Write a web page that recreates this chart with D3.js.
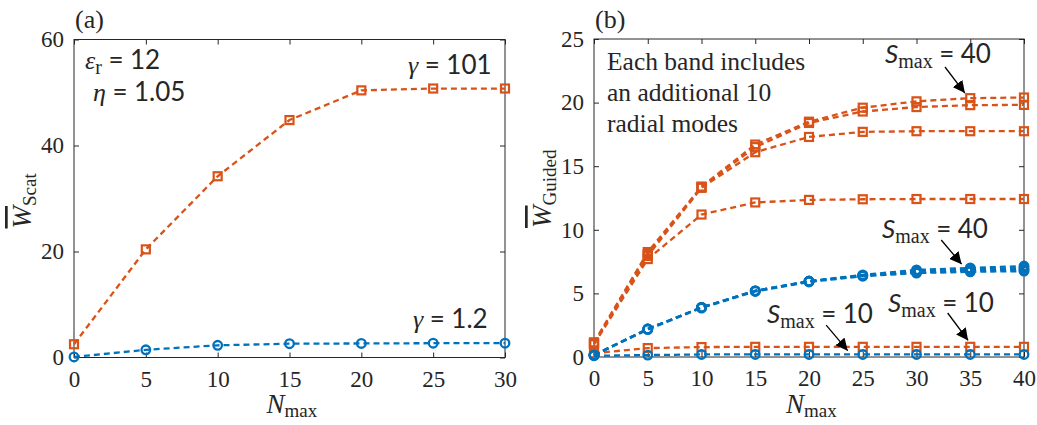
<!DOCTYPE html>
<html>
<head>
<meta charset="utf-8">
<script src="https://cdn.jsdelivr.net/npm/d3@7"></script>
<style>
  body { margin: 0; background: #fff; }
  svg text { fill: #262626; }
</style>
</head>
<body>
<svg id="chart"></svg>
<script>
const width = 1037;
const height = 425;
const orange = '#D95319';
const blue = '#0072BD';

// (a) scattering
const nA = [0, 5, 10, 15, 20, 25, 30];
const scatGamma101 = [2.5, 20.4, 34.2, 44.8, 50.4, 50.75, 50.75];
const scatGamma12 = [0.1, 1.45, 2.3, 2.6, 2.65, 2.7, 2.7];

// (b) guided, several S_max bands
const nB = [0, 5, 10, 15, 20, 25, 30, 35, 40];
const guidedOrange = [
  [1.15, 8.25, 13.4, 16.7, 18.5, 19.6, 20.1, 20.35, 20.4],
  [1.1, 8.1, 13.35, 16.5, 18.4, 19.3, 19.65, 19.8, 19.82],
  [1.05, 7.95, 13.3, 16.1, 17.3, 17.7, 17.75, 17.75, 17.75],
  [1.0, 7.7, 11.2, 12.15, 12.35, 12.4, 12.42, 12.42, 12.42],
  [0.3, 0.7, 0.78, 0.8, 0.8, 0.8, 0.8, 0.8, 0.8]
];
const guidedBlue = [
  [0.15, 2.2, 3.9, 5.2, 5.97, 6.45, 6.85, 7.0, 7.15],
  [0.15, 2.2, 3.9, 5.2, 5.95, 6.4, 6.75, 6.9, 7.0],
  [0.15, 2.2, 3.9, 5.2, 5.95, 6.4, 6.65, 6.8, 6.85],
  [0.15, 2.15, 3.85, 5.15, 5.9, 6.35, 6.6, 6.7, 6.75],
  [0.1, 0.15, 0.2, 0.2, 0.2, 0.2, 0.2, 0.2, 0.2]
];

const xTicksA = [0, 5, 10, 15, 20, 25, 30];
const yTicksA = [0, 20, 40, 60];
const xTicksB = [0, 5, 10, 15, 20, 25, 30, 35, 40];
const yTicksB = [0, 5, 10, 15, 20, 25];

const serif = '"Liberation Serif", "Times New Roman", serif';
const sans = 'Lato, "Open Sans", sans-serif';

const svg = d3.select('#chart').attr('width', width).attr('height', height);

svg.append('defs').append('marker')
  .attr('id', 'arrow')
  .attr('viewBox', '0 0 10 10')
  .attr('refX', 10).attr('refY', 5)
  .attr('markerWidth', 12).attr('markerHeight', 12)
  .attr('markerUnits', 'userSpaceOnUse')
  .attr('orient', 'auto')
  .append('path').attr('d', 'M0,0 L10,5 L0,10 Z').attr('fill', '#000');

function panel(box, xDomain, yDomain, xTicks, yTicks, label, ySub) {
  const x = d3.scaleLinear().domain(xDomain).range([box.left, box.right]);
  const y = d3.scaleLinear().domain(yDomain).range([box.bottom, box.top]);
  const g = svg.append('g');

  const tick = 5;
  const axisStyle = a => {
    a.select('.domain').remove();
    a.selectAll('line').attr('stroke', '#262626');
    a.selectAll('text').attr('font-family', serif).attr('font-size', 23).attr('fill', '#262626');
  };
  g.append('g').attr('transform', `translate(0,${box.bottom})`)
    .call(d3.axisBottom(x).tickValues(xTicks).tickSize(-tick).tickPadding(13))
    .call(axisStyle);
  g.append('g').attr('transform', `translate(0,${box.top})`)
    .call(d3.axisTop(x).tickValues(xTicks).tickSize(-tick).tickFormat(''))
    .call(axisStyle);
  g.append('g').attr('transform', `translate(${box.left},0)`)
    .call(d3.axisLeft(y).tickValues(yTicks).tickSize(-tick).tickPadding(10))
    .call(axisStyle);
  g.append('g').attr('transform', `translate(${box.right},0)`)
    .call(d3.axisRight(y).tickValues(yTicks).tickSize(-tick).tickFormat(''))
    .call(axisStyle);
  g.append('rect')
    .attr('x', box.left).attr('y', box.top)
    .attr('width', box.right - box.left).attr('height', box.bottom - box.top)
    .attr('fill', 'none').attr('stroke', '#262626').attr('stroke-width', 1);

  // panel label
  g.append('text').attr('x', box.left + 1).attr('y', 28)
    .attr('font-family', serif).attr('font-size', 26).text(label);

  // x label
  const xl = g.append('text').attr('x', (box.left + box.right) / 2 - 23).attr('y', 413)
    .attr('font-family', serif).attr('font-size', 27);
  xl.append('tspan').attr('font-style', 'italic').text('N');
  xl.append('tspan').attr('font-size', 19).attr('dy', 4).text('max');

  // y label
  const yl = g.append('text')
    .attr('transform', `translate(${box.left - 43},${(box.top + box.bottom) / 2 + 30}) rotate(-90)`)
    .attr('font-family', serif).attr('font-size', 27);
  yl.append('tspan').attr('font-style', 'italic').style('text-decoration', 'overline').text('W');
  yl.append('tspan').attr('font-size', 19).attr('dy', 5).text(ySub);

  return { x, y, g };
}

function series(p, xs, ys, color, shape) {
  const pts = xs.map((d, i) => [d, ys[i]]);
  const line = d3.line().x(d => p.x(d[0])).y(d => p.y(d[1]));
  p.g.append('path').datum(pts)
    .attr('d', line)
    .attr('fill', 'none')
    .attr('stroke', color)
    .attr('stroke-width', 2.3)
    .attr('stroke-dasharray', '6,4');
  if (shape === 'square') {
    p.g.append('g').selectAll('rect').data(pts).enter().append('rect')
      .attr('x', d => p.x(d[0]) - 4).attr('y', d => p.y(d[1]) - 4)
      .attr('width', 8).attr('height', 8)
      .attr('fill', 'none').attr('stroke', color).attr('stroke-width', 2.2);
  } else {
    p.g.append('g').selectAll('circle').data(pts).enter().append('circle')
      .attr('cx', d => p.x(d[0])).attr('cy', d => p.y(d[1]))
      .attr('r', 4.3)
      .attr('fill', 'none').attr('stroke', color).attr('stroke-width', 2.3);
  }
}

function mathText(g, xPos, yPos, sym, sub, rest, color, symFont) {
  const t = g.append('text').attr('x', xPos).attr('y', yPos)
    .attr('font-size', 26).attr('fill', color || '#000');
  t.append('tspan').attr('font-family', symFont || serif).attr('font-style', 'italic').text(sym);
  if (sub) t.append('tspan').attr('font-family', serif).attr('font-size', 20).attr('dy', 5).text(sub);
  t.append('tspan').attr('font-family', sans).attr('dy', sub ? -5 : 0)
    .attr('xml:space', 'preserve').text('\u2005=\u2005' + rest);
  return t;
}

// panel (a)
const pa = panel({ left: 74, right: 505, top: 39.5, bottom: 357.5 }, [0, 30], [0, 60], xTicksA, yTicksA, '(a)', 'Scat');
series(pa, nA, scatGamma101, orange, 'square');
series(pa, nA, scatGamma12, blue, 'circle');
mathText(pa.g, 85, 69, 'ε', 'r', '12', '#000');
mathText(pa.g, 93, 101, 'η', null, '1.05', '#000');
mathText(pa.g, 408, 74, 'γ', null, '101', orange);
mathText(pa.g, 413, 328, 'γ', null, '1.2', blue);

// panel (b)
const pb = panel({ left: 594, right: 1024, top: 39, bottom: 357 }, [0, 40], [0, 25], xTicksB, yTicksB, '(b)', 'Guided');
guidedOrange.forEach(s => series(pb, nB, s, orange, 'square'));
guidedBlue.forEach(s => series(pb, nB, s, blue, 'circle'));

const note = pb.g.append('text').attr('font-family', serif).attr('font-size', 25.5).attr('fill', '#000');
['Each band includes', 'an additional 10', 'radial modes'].forEach((s, i) => {
  note.append('tspan').attr('x', 607).attr('y', 70 + i * 31).text(s);
});

const smaxLabels = [
  { x: 885, y: 63, v: '40', from: [32.65, 22.8], to: [34.5, 20.75] },
  { x: 882, y: 238, v: '40', from: [32.3, 9.2], to: [34.2, 7.3] },
  { x: 767, y: 323, v: '10', from: [21.6, 2.5], to: [23.6, 0.5] },
  { x: 888, y: 312, v: '10', from: [32.9, 3.46], to: [34.8, 1.3] }
];
smaxLabels.forEach(d => {
  mathText(pb.g, d.x, d.y, 'S', 'max', d.v, '#000', sans);
  pb.g.append('line')
    .attr('x1', pb.x(d.from[0])).attr('y1', pb.y(d.from[1]))
    .attr('x2', pb.x(d.to[0])).attr('y2', pb.y(d.to[1]))
    .attr('stroke', '#000').attr('stroke-width', 1.3)
    .attr('marker-end', 'url(#arrow)');
});
</script>
</body>
</html>
